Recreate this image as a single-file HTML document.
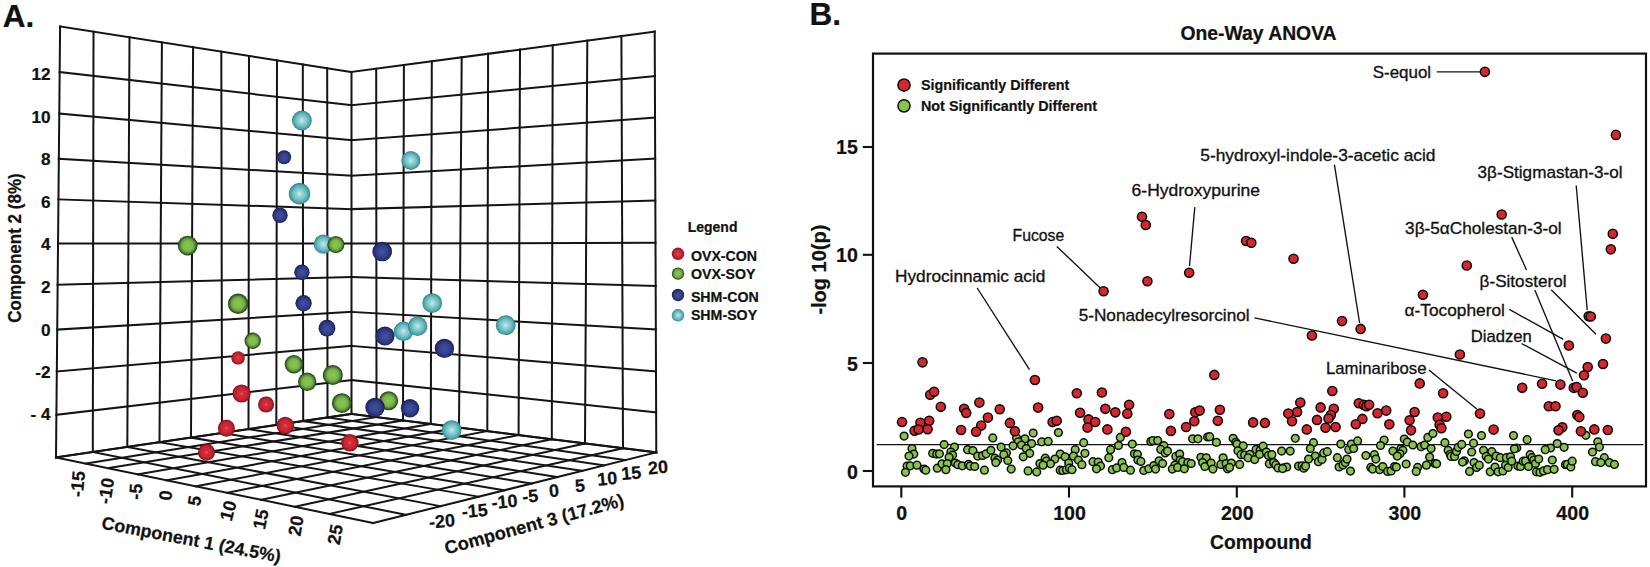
<!DOCTYPE html>
<html lang="en"><head><meta charset="utf-8"><title>Figure</title>
<style>
html,body{margin:0;padding:0;background:#fff;}
body{width:1650px;height:567px;overflow:hidden;font-family:"Liberation Sans",sans-serif;}
svg{display:block}
text{font-family:"Liberation Sans",sans-serif;fill:#111;}
.b{font-weight:bold;stroke:#111;stroke-width:0.22px;paint-order:stroke}
.g line{stroke:#151313;stroke-width:2;stroke-linecap:square}
.lead line{stroke:#111;stroke-width:1.35}
.rd circle{fill:#d7262c;stroke:#0d0d0d;stroke-width:1.55}
.gd circle{fill:#86c44c;stroke:#0d0d0d;stroke-width:1.5}
</style></head><body>
<svg width="1650" height="567" viewBox="0 0 1650 567">
<defs>
<radialGradient id="gr" cx="0.5" cy="0.5" r="0.5"><stop offset="0" stop-color="#de6079"/><stop offset="0.2" stop-color="#d3303e"/><stop offset="0.68" stop-color="#c7222e"/><stop offset="0.86" stop-color="#a41927"/><stop offset="1" stop-color="#6c0f19"/></radialGradient>
<radialGradient id="gg" cx="0.5" cy="0.5" r="0.5"><stop offset="0" stop-color="#8fc653"/><stop offset="0.5" stop-color="#7db84a"/><stop offset="0.72" stop-color="#5f9639"/><stop offset="0.87" stop-color="#376326"/><stop offset="1" stop-color="#1d3a16"/></radialGradient>
<radialGradient id="gb" cx="0.5" cy="0.52" r="0.5"><stop offset="0" stop-color="#4151a1"/><stop offset="0.55" stop-color="#34418c"/><stop offset="0.85" stop-color="#272e72"/><stop offset="1" stop-color="#191d52"/></radialGradient>
<radialGradient id="gc" cx="0.5" cy="0.5" r="0.5"><stop offset="0" stop-color="#d0e9ed"/><stop offset="0.25" stop-color="#9ed5d9"/><stop offset="0.6" stop-color="#6abfc2"/><stop offset="0.85" stop-color="#4aa1a5"/><stop offset="1" stop-color="#347e82"/></radialGradient>
</defs>
<rect width="1650" height="567" fill="#fff"/>

<g class="g">
<line x1="60.1" y1="26.5" x2="56.0" y2="457.4"/>
<line x1="93.5" y1="31.7" x2="92.8" y2="452.0"/>
<line x1="129.5" y1="37.3" x2="127.3" y2="446.9"/>
<line x1="161.9" y1="42.4" x2="159.5" y2="442.2"/>
<line x1="193.1" y1="47.3" x2="191.0" y2="437.6"/>
<line x1="221.3" y1="51.7" x2="222.0" y2="433.0"/>
<line x1="249.0" y1="56.0" x2="248.5" y2="429.1"/>
<line x1="277.0" y1="60.4" x2="276.3" y2="425.0"/>
<line x1="302.8" y1="64.4" x2="303.2" y2="421.1"/>
<line x1="327.2" y1="68.2" x2="327.5" y2="417.5"/>
<line x1="351.5" y1="72.0" x2="351.5" y2="414.0"/>
<line x1="60.1" y1="26.5" x2="351.5" y2="72.0"/>
<line x1="59.7" y1="72.1" x2="351.5" y2="105.2"/>
<line x1="59.3" y1="113.5" x2="351.5" y2="140.2"/>
<line x1="58.8" y1="158.7" x2="351.5" y2="175.8"/>
<line x1="58.5" y1="199.4" x2="351.5" y2="209.1"/>
<line x1="58.0" y1="243.5" x2="351.5" y2="243.6"/>
<line x1="57.6" y1="284.8" x2="351.5" y2="277.0"/>
<line x1="57.2" y1="329.6" x2="351.5" y2="311.9"/>
<line x1="56.8" y1="371.5" x2="351.5" y2="345.9"/>
<line x1="56.4" y1="414.8" x2="351.5" y2="380.0"/>
<line x1="56.0" y1="457.4" x2="351.5" y2="414.0"/>
<line x1="376.2" y1="68.7" x2="376.5" y2="417.1"/>
<line x1="403.9" y1="65.0" x2="403.0" y2="420.5"/>
<line x1="431.8" y1="61.3" x2="430.8" y2="424.0"/>
<line x1="461.7" y1="57.3" x2="459.0" y2="427.5"/>
<line x1="488.1" y1="53.8" x2="487.3" y2="431.1"/>
<line x1="520.0" y1="49.5" x2="518.6" y2="435.1"/>
<line x1="552.7" y1="45.2" x2="551.8" y2="439.2"/>
<line x1="587.3" y1="40.6" x2="585.0" y2="443.4"/>
<line x1="621.4" y1="36.0" x2="623.0" y2="448.2"/>
<line x1="654.7" y1="31.6" x2="656.3" y2="452.4"/>
<line x1="351.5" y1="72.0" x2="654.7" y2="31.6"/>
<line x1="351.5" y1="105.2" x2="654.9" y2="76.2"/>
<line x1="351.5" y1="140.2" x2="655.0" y2="117.6"/>
<line x1="351.5" y1="175.8" x2="655.2" y2="158.5"/>
<line x1="351.5" y1="209.1" x2="655.3" y2="200.6"/>
<line x1="351.5" y1="243.6" x2="655.5" y2="242.8"/>
<line x1="351.5" y1="277.0" x2="655.7" y2="286.0"/>
<line x1="351.5" y1="311.9" x2="655.8" y2="329.4"/>
<line x1="351.5" y1="345.9" x2="656.0" y2="371.3"/>
<line x1="351.5" y1="380.0" x2="656.1" y2="412.3"/>
<line x1="351.5" y1="414.0" x2="656.3" y2="452.4"/>
<line x1="56.0" y1="457.4" x2="373.2" y2="523.0"/>
<line x1="92.8" y1="452.0" x2="405.9" y2="514.8"/>
<line x1="127.3" y1="446.9" x2="440.5" y2="506.2"/>
<line x1="159.5" y1="442.2" x2="478.8" y2="496.7"/>
<line x1="191.0" y1="437.6" x2="504.4" y2="490.3"/>
<line x1="222.0" y1="433.0" x2="531.5" y2="483.5"/>
<line x1="248.5" y1="429.1" x2="557.5" y2="477.0"/>
<line x1="276.3" y1="425.0" x2="582.3" y2="470.9"/>
<line x1="303.2" y1="421.1" x2="604.0" y2="465.4"/>
<line x1="327.5" y1="417.5" x2="625.5" y2="460.1"/>
<line x1="351.5" y1="414.0" x2="656.3" y2="452.4"/>
<line x1="351.5" y1="414.0" x2="56.0" y2="457.4"/>
<line x1="376.5" y1="417.1" x2="85.7" y2="463.5"/>
<line x1="403.0" y1="420.5" x2="108.4" y2="468.2"/>
<line x1="430.8" y1="424.0" x2="138.0" y2="474.4"/>
<line x1="459.0" y1="427.5" x2="166.7" y2="480.3"/>
<line x1="487.3" y1="431.1" x2="195.8" y2="486.3"/>
<line x1="518.6" y1="435.1" x2="227.2" y2="492.8"/>
<line x1="551.8" y1="439.2" x2="261.2" y2="499.8"/>
<line x1="585.0" y1="443.4" x2="294.7" y2="506.8"/>
<line x1="623.0" y1="448.2" x2="329.4" y2="513.9"/>
<line x1="656.3" y1="452.4" x2="373.2" y2="523.0"/>
</g>
<g>
<circle cx="301.9" cy="120.5" r="9.90" fill="url(#gc)"/>
<circle cx="284.1" cy="157.3" r="7.00" fill="url(#gb)"/>
<circle cx="299.5" cy="193.8" r="10.70" fill="url(#gc)"/>
<circle cx="280.0" cy="215.2" r="7.70" fill="url(#gb)"/>
<circle cx="187.7" cy="245.6" r="9.90" fill="url(#gg)"/>
<circle cx="323.4" cy="244.1" r="9.65" fill="url(#gc)"/>
<circle cx="335.9" cy="244.5" r="8.60" fill="url(#gg)"/>
<circle cx="382.2" cy="251.5" r="9.80" fill="url(#gb)"/>
<circle cx="301.9" cy="272.2" r="7.70" fill="url(#gb)"/>
<circle cx="238.1" cy="303.8" r="10.20" fill="url(#gg)"/>
<circle cx="303.6" cy="303.3" r="8.20" fill="url(#gb)"/>
<circle cx="327.0" cy="328.2" r="8.40" fill="url(#gb)"/>
<circle cx="403.5" cy="331.3" r="9.70" fill="url(#gc)"/>
<circle cx="385.0" cy="336.0" r="9.60" fill="url(#gb)"/>
<circle cx="417.6" cy="326.2" r="9.70" fill="url(#gc)"/>
<circle cx="252.7" cy="340.8" r="8.20" fill="url(#gg)"/>
<circle cx="238.1" cy="357.9" r="6.70" fill="url(#gr)"/>
<circle cx="293.9" cy="364.2" r="9.20" fill="url(#gg)"/>
<circle cx="332.8" cy="375.0" r="10.00" fill="url(#gg)"/>
<circle cx="307.2" cy="381.8" r="9.20" fill="url(#gg)"/>
<circle cx="241.6" cy="393.5" r="9.10" fill="url(#gr)"/>
<circle cx="266.1" cy="404.5" r="8.00" fill="url(#gr)"/>
<circle cx="341.8" cy="403.1" r="9.90" fill="url(#gg)"/>
<circle cx="388.6" cy="400.7" r="9.50" fill="url(#gg)"/>
<circle cx="375.0" cy="407.4" r="9.70" fill="url(#gb)"/>
<circle cx="410.0" cy="408.2" r="9.20" fill="url(#gb)"/>
<circle cx="410.8" cy="160.4" r="9.50" fill="url(#gc)"/>
<circle cx="432.2" cy="303.1" r="9.90" fill="url(#gc)"/>
<circle cx="444.4" cy="348.4" r="9.70" fill="url(#gb)"/>
<circle cx="505.7" cy="325.2" r="9.90" fill="url(#gc)"/>
<circle cx="451.7" cy="430.1" r="9.90" fill="url(#gc)"/>
<circle cx="349.9" cy="442.8" r="8.70" fill="url(#gr)"/>
<circle cx="226.4" cy="428.2" r="8.50" fill="url(#gr)"/>
<circle cx="285.3" cy="425.5" r="8.70" fill="url(#gr)"/>
<circle cx="206.5" cy="452.3" r="8.50" fill="url(#gr)"/>
</g>
<text class="b" x="2.8" y="26.8" font-size="31.5">A.</text>
<text class="b" x="50.5" y="79.5" font-size="17.2" text-anchor="end">12</text>
<text class="b" x="50.5" y="122.9" font-size="17.2" text-anchor="end">10</text>
<text class="b" x="50.5" y="165.2" font-size="17.2" text-anchor="end">8</text>
<text class="b" x="50.5" y="207.6" font-size="17.2" text-anchor="end">6</text>
<text class="b" x="50.5" y="250.1" font-size="17.2" text-anchor="end">4</text>
<text class="b" x="50.5" y="292.5" font-size="17.2" text-anchor="end">2</text>
<text class="b" x="50.5" y="335.9" font-size="17.2" text-anchor="end">0</text>
<text class="b" x="50.5" y="377.9" font-size="17.2" text-anchor="end">-2</text>
<text class="b" x="50.5" y="419.5" font-size="17.2" text-anchor="end">- 4</text>
<text class="b" font-size="17.8" text-anchor="middle" textLength="149.6" lengthAdjust="spacingAndGlyphs" transform="translate(20.6,248) rotate(-90)">Component 2 (8%)</text>
<text class="b" font-size="18" text-anchor="middle" transform="translate(77.6,484.0) rotate(-85)" dy="6.4">-15</text>
<text class="b" font-size="18" text-anchor="middle" transform="translate(105.9,490.8) rotate(-81)" dy="6.4">-10</text>
<text class="b" font-size="18" text-anchor="middle" transform="translate(135.4,491.6) rotate(-86)" dy="6.4">-5</text>
<text class="b" font-size="18" text-anchor="middle" transform="translate(165.3,495.3) rotate(-84)" dy="6.4">0</text>
<text class="b" font-size="18" text-anchor="middle" transform="translate(194.2,500.8) rotate(-80)" dy="6.4">5</text>
<text class="b" font-size="18" text-anchor="middle" transform="translate(228.0,510.6) rotate(-75)" dy="6.4">10</text>
<text class="b" font-size="18" text-anchor="middle" transform="translate(260.6,519.2) rotate(-78)" dy="6.4">15</text>
<text class="b" font-size="18" text-anchor="middle" transform="translate(295.6,525.7) rotate(-80)" dy="6.4">20</text>
<text class="b" font-size="18" text-anchor="middle" transform="translate(335.0,534.4) rotate(-80)" dy="6.4">25</text>
<text class="b" font-size="17.9" transform="translate(100.8,528.6) rotate(10.8)">Component 1 (24.5%)</text>
<text class="b" font-size="18" text-anchor="middle" transform="translate(441.9,521.0) rotate(-5)" dy="6.4">-20</text>
<text class="b" font-size="18" text-anchor="middle" transform="translate(474.6,510.6) rotate(-5)" dy="6.4">-15</text>
<text class="b" font-size="18" text-anchor="middle" transform="translate(504.5,501.5) rotate(-5)" dy="6.4">-10</text>
<text class="b" font-size="18" text-anchor="middle" transform="translate(530.1,495.9) rotate(-5)" dy="6.4">-5</text>
<text class="b" font-size="18" text-anchor="middle" transform="translate(553.9,490.4) rotate(-5)" dy="6.4">0</text>
<text class="b" font-size="18" text-anchor="middle" transform="translate(580.0,485.5) rotate(-5)" dy="6.4">5</text>
<text class="b" font-size="18" text-anchor="middle" transform="translate(607.2,478.4) rotate(-5)" dy="6.4">10</text>
<text class="b" font-size="18" text-anchor="middle" transform="translate(631.1,472.8) rotate(-5)" dy="6.4">15</text>
<text class="b" font-size="18" text-anchor="middle" transform="translate(657.9,467.2) rotate(-5)" dy="6.4">20</text>
<text class="b" font-size="18.2" transform="translate(446.6,554.4) rotate(-15.3)">Component 3 (17.2%)</text>
<text class="b" x="687.7" y="232.1" font-size="14">Legend</text>
<circle cx="678" cy="253.8" r="6.2" fill="url(#gr)"/>
<text class="b" x="690.9" y="260.5" font-size="14.2">OVX-CON</text>
<circle cx="678" cy="273.6" r="6.2" fill="url(#gg)"/>
<text class="b" x="690.9" y="278.5" font-size="14.2">OVX-SOY</text>
<circle cx="678" cy="295.0" r="6.2" fill="url(#gb)"/>
<text class="b" x="690.9" y="302.0" font-size="14.2">SHM-CON</text>
<circle cx="678" cy="315.3" r="6.2" fill="url(#gc)"/>
<text class="b" x="690.9" y="320.2" font-size="14.2">SHM-SOY</text>
<text class="b" x="809.5" y="25.0" font-size="31.5">B.</text>
<text class="b" x="1258.5" y="40.2" font-size="19.35" text-anchor="middle">One-Way ANOVA</text>
<rect x="873.0" y="53.6" width="773.0" height="432.79999999999995" fill="none" stroke="#111" stroke-width="2.2"/>
<line x1="901.3" y1="486.4" x2="901.3" y2="497.6" stroke="#111" stroke-width="2.1"/>
<text class="b" x="901.8" y="519.8" font-size="19.6" text-anchor="middle" stroke="#111" stroke-width="0.3">0</text>
<line x1="1069.0" y1="486.4" x2="1069.0" y2="497.6" stroke="#111" stroke-width="2.1"/>
<text class="b" x="1069.5" y="519.8" font-size="19.6" text-anchor="middle" stroke="#111" stroke-width="0.3">100</text>
<line x1="1236.8" y1="486.4" x2="1236.8" y2="497.6" stroke="#111" stroke-width="2.1"/>
<text class="b" x="1237.3" y="519.8" font-size="19.6" text-anchor="middle" stroke="#111" stroke-width="0.3">200</text>
<line x1="1404.4" y1="486.4" x2="1404.4" y2="497.6" stroke="#111" stroke-width="2.1"/>
<text class="b" x="1404.9" y="519.8" font-size="19.6" text-anchor="middle" stroke="#111" stroke-width="0.3">300</text>
<line x1="1572.2" y1="486.4" x2="1572.2" y2="497.6" stroke="#111" stroke-width="2.1"/>
<text class="b" x="1572.7" y="519.8" font-size="19.6" text-anchor="middle" stroke="#111" stroke-width="0.3">400</text>
<line x1="862.8" y1="471.0" x2="873.0" y2="471.0" stroke="#111" stroke-width="2.1"/>
<text class="b" x="857.8" y="478.9" font-size="19.6" text-anchor="end" stroke="#111" stroke-width="0.3">0</text>
<line x1="862.8" y1="363.0" x2="873.0" y2="363.0" stroke="#111" stroke-width="2.1"/>
<text class="b" x="857.8" y="371.0" font-size="19.6" text-anchor="end" stroke="#111" stroke-width="0.3">5</text>
<line x1="862.8" y1="254.8" x2="873.0" y2="254.8" stroke="#111" stroke-width="2.1"/>
<text class="b" x="857.8" y="262.2" font-size="19.6" text-anchor="end" stroke="#111" stroke-width="0.3">10</text>
<line x1="862.8" y1="147.0" x2="873.0" y2="147.0" stroke="#111" stroke-width="2.1"/>
<text class="b" x="857.8" y="153.9" font-size="19.6" text-anchor="end" stroke="#111" stroke-width="0.3">15</text>
<text class="b" font-size="20" text-anchor="middle" transform="translate(825.6,269.6) rotate(-90)">-log 10(p)</text>
<text class="b" x="1260.9" y="548.8" font-size="19.3" text-anchor="middle">Compound</text>
<line x1="876.7" y1="444.6" x2="1643.4" y2="444.6" stroke="#111" stroke-width="1.3"/>
<g class="rd"><circle cx="904" cy="85" r="6.1"/></g><g class="gd"><circle cx="904" cy="105.8" r="6.1"/></g>
<text class="b" x="921" y="90.2" font-size="14.35">Significantly Different</text>
<text class="b" x="921" y="111" font-size="14.35">Not Significantly Different</text>
<g class="lead">
<line x1="1436.7" y1="71.8" x2="1480" y2="71.8"/>
<line x1="1056.8" y1="246.4" x2="1100.5" y2="288.2"/>
<line x1="977.2" y1="288.0" x2="1029.5" y2="369.7"/>
<line x1="1194.8" y1="207.1" x2="1189.5" y2="266.0"/>
<line x1="1334.4" y1="164.6" x2="1359.6" y2="323.0"/>
<line x1="1254.5" y1="317.9" x2="1556.0" y2="380.8"/>
<line x1="1576.2" y1="185.5" x2="1587.2" y2="310.0"/>
<line x1="1511.7" y1="237.1" x2="1526.5" y2="270.0"/>
<line x1="1534.8" y1="290.0" x2="1572.6" y2="381.0"/>
<line x1="1551.2" y1="289.7" x2="1596.0" y2="334.2"/>
<line x1="1509.3" y1="309.4" x2="1563.3" y2="339.3"/>
<line x1="1521.5" y1="343.5" x2="1576.8" y2="373.1"/>
<line x1="1428.9" y1="370.0" x2="1476.8" y2="409.0"/>
</g>
<g class="gd">
<circle cx="904.1" cy="436.1" r="3.85"/>
<circle cx="992.8" cy="437.9" r="3.85"/>
<circle cx="1033.2" cy="433.1" r="3.85"/>
<circle cx="1058.4" cy="432.6" r="3.85"/>
<circle cx="1016.6" cy="437.9" r="3.85"/>
<circle cx="1024.9" cy="438.8" r="3.85"/>
<circle cx="1018.4" cy="441.8" r="3.85"/>
<circle cx="1021.4" cy="445.0" r="3.85"/>
<circle cx="1013.1" cy="445.8" r="3.85"/>
<circle cx="1031.6" cy="443.6" r="3.85"/>
<circle cx="1041.7" cy="441.8" r="3.85"/>
<circle cx="1048.2" cy="441.4" r="3.85"/>
<circle cx="1083.7" cy="442.7" r="3.85"/>
<circle cx="944.1" cy="444.6" r="3.85"/>
<circle cx="954.4" cy="447.1" r="3.85"/>
<circle cx="912.0" cy="448.5" r="3.85"/>
<circle cx="913.8" cy="454.1" r="3.85"/>
<circle cx="909.0" cy="456.1" r="3.85"/>
<circle cx="932.7" cy="453.3" r="3.85"/>
<circle cx="936.7" cy="454.1" r="3.85"/>
<circle cx="939.4" cy="453.8" r="3.85"/>
<circle cx="950.8" cy="452.0" r="3.85"/>
<circle cx="952.6" cy="455.0" r="3.85"/>
<circle cx="949.1" cy="457.3" r="3.85"/>
<circle cx="967.6" cy="449.7" r="3.85"/>
<circle cx="972.9" cy="450.6" r="3.85"/>
<circle cx="977.7" cy="456.1" r="3.85"/>
<circle cx="982.6" cy="455.5" r="3.85"/>
<circle cx="986.1" cy="453.8" r="3.85"/>
<circle cx="990.9" cy="450.3" r="3.85"/>
<circle cx="1001.1" cy="447.1" r="3.85"/>
<circle cx="1006.4" cy="452.9" r="3.85"/>
<circle cx="1003.8" cy="454.7" r="3.85"/>
<circle cx="994.9" cy="458.2" r="3.85"/>
<circle cx="997.6" cy="460.0" r="3.85"/>
<circle cx="995.8" cy="462.6" r="3.85"/>
<circle cx="1007.8" cy="460.5" r="3.85"/>
<circle cx="1026.2" cy="448.5" r="3.85"/>
<circle cx="1029.7" cy="453.3" r="3.85"/>
<circle cx="1023.2" cy="456.8" r="3.85"/>
<circle cx="1075.2" cy="449.7" r="3.85"/>
<circle cx="1084.9" cy="453.3" r="3.85"/>
<circle cx="1073.4" cy="456.1" r="3.85"/>
<circle cx="1078.4" cy="460.0" r="3.85"/>
<circle cx="1081.9" cy="464.7" r="3.85"/>
<circle cx="1060.2" cy="454.1" r="3.85"/>
<circle cx="1065.1" cy="456.8" r="3.85"/>
<circle cx="1054.9" cy="459.1" r="3.85"/>
<circle cx="1068.7" cy="463.1" r="3.85"/>
<circle cx="1045.2" cy="458.2" r="3.85"/>
<circle cx="1046.4" cy="461.2" r="3.85"/>
<circle cx="1050.5" cy="463.8" r="3.85"/>
<circle cx="1039.9" cy="463.5" r="3.85"/>
<circle cx="1043.1" cy="465.2" r="3.85"/>
<circle cx="907.1" cy="466.1" r="3.85"/>
<circle cx="910.3" cy="465.8" r="3.85"/>
<circle cx="917.0" cy="465.2" r="3.85"/>
<circle cx="905.5" cy="472.3" r="3.85"/>
<circle cx="923.9" cy="469.1" r="3.85"/>
<circle cx="925.8" cy="470.2" r="3.85"/>
<circle cx="937.3" cy="468.2" r="3.85"/>
<circle cx="942.0" cy="463.8" r="3.85"/>
<circle cx="947.3" cy="463.5" r="3.85"/>
<circle cx="945.9" cy="469.7" r="3.85"/>
<circle cx="955.3" cy="463.0" r="3.85"/>
<circle cx="957.9" cy="464.7" r="3.85"/>
<circle cx="962.3" cy="465.8" r="3.85"/>
<circle cx="968.5" cy="464.4" r="3.85"/>
<circle cx="970.2" cy="466.1" r="3.85"/>
<circle cx="974.7" cy="466.5" r="3.85"/>
<circle cx="984.4" cy="470.2" r="3.85"/>
<circle cx="1011.2" cy="469.1" r="3.85"/>
<circle cx="1028.1" cy="470.9" r="3.85"/>
<circle cx="1036.7" cy="471.9" r="3.85"/>
<circle cx="1060.2" cy="470.2" r="3.85"/>
<circle cx="1062.8" cy="470.5" r="3.85"/>
<circle cx="1066.4" cy="469.7" r="3.85"/>
<circle cx="1069.5" cy="468.2" r="3.85"/>
<circle cx="1072.0" cy="469.7" r="3.85"/>
<circle cx="1120.3" cy="437.4" r="3.85"/>
<circle cx="1118.5" cy="445.5" r="3.85"/>
<circle cx="1132.3" cy="444.1" r="3.85"/>
<circle cx="1110.6" cy="449.7" r="3.85"/>
<circle cx="1108.8" cy="457.7" r="3.85"/>
<circle cx="1093.0" cy="461.7" r="3.85"/>
<circle cx="1098.2" cy="462.1" r="3.85"/>
<circle cx="1100.5" cy="466.1" r="3.85"/>
<circle cx="1096.5" cy="468.8" r="3.85"/>
<circle cx="1112.3" cy="469.7" r="3.85"/>
<circle cx="1116.7" cy="467.9" r="3.85"/>
<circle cx="1122.0" cy="462.6" r="3.85"/>
<circle cx="1123.8" cy="467.4" r="3.85"/>
<circle cx="1130.5" cy="470.2" r="3.85"/>
<circle cx="1134.4" cy="453.8" r="3.85"/>
<circle cx="1137.4" cy="454.3" r="3.85"/>
<circle cx="1137.9" cy="460.0" r="3.85"/>
<circle cx="1140.9" cy="461.4" r="3.85"/>
<circle cx="1143.7" cy="470.5" r="3.85"/>
<circle cx="1148.8" cy="468.8" r="3.85"/>
<circle cx="1153.8" cy="465.6" r="3.85"/>
<circle cx="1155.5" cy="469.1" r="3.85"/>
<circle cx="1159.1" cy="460.8" r="3.85"/>
<circle cx="1162.6" cy="463.5" r="3.85"/>
<circle cx="1150.8" cy="441.4" r="3.85"/>
<circle cx="1152.9" cy="440.6" r="3.85"/>
<circle cx="1157.7" cy="440.6" r="3.85"/>
<circle cx="1163.8" cy="445.5" r="3.85"/>
<circle cx="1160.8" cy="449.4" r="3.85"/>
<circle cx="1165.2" cy="452.9" r="3.85"/>
<circle cx="1167.5" cy="451.1" r="3.85"/>
<circle cx="1175.8" cy="456.4" r="3.85"/>
<circle cx="1179.7" cy="454.1" r="3.85"/>
<circle cx="1180.2" cy="460.0" r="3.85"/>
<circle cx="1182.5" cy="461.7" r="3.85"/>
<circle cx="1187.8" cy="462.6" r="3.85"/>
<circle cx="1191.2" cy="463.5" r="3.85"/>
<circle cx="1174.9" cy="465.2" r="3.85"/>
<circle cx="1172.3" cy="469.1" r="3.85"/>
<circle cx="1177.6" cy="467.4" r="3.85"/>
<circle cx="1184.3" cy="468.8" r="3.85"/>
<circle cx="1192.6" cy="438.8" r="3.85"/>
<circle cx="1197.9" cy="438.8" r="3.85"/>
<circle cx="1207.6" cy="437.0" r="3.85"/>
<circle cx="1209.7" cy="436.7" r="3.85"/>
<circle cx="1216.4" cy="442.3" r="3.85"/>
<circle cx="1200.9" cy="457.3" r="3.85"/>
<circle cx="1206.3" cy="457.8" r="3.85"/>
<circle cx="1202.6" cy="462.6" r="3.85"/>
<circle cx="1204.9" cy="466.5" r="3.85"/>
<circle cx="1211.1" cy="463.0" r="3.85"/>
<circle cx="1212.9" cy="469.1" r="3.85"/>
<circle cx="1223.1" cy="457.8" r="3.85"/>
<circle cx="1220.8" cy="464.4" r="3.85"/>
<circle cx="1226.1" cy="463.5" r="3.85"/>
<circle cx="1231.4" cy="463.0" r="3.85"/>
<circle cx="1227.5" cy="468.8" r="3.85"/>
<circle cx="1229.6" cy="467.4" r="3.85"/>
<circle cx="1239.7" cy="464.4" r="3.85"/>
<circle cx="1233.1" cy="438.3" r="3.85"/>
<circle cx="1235.8" cy="442.3" r="3.85"/>
<circle cx="1237.0" cy="444.1" r="3.85"/>
<circle cx="1243.2" cy="445.8" r="3.85"/>
<circle cx="1237.9" cy="450.8" r="3.85"/>
<circle cx="1241.1" cy="454.7" r="3.85"/>
<circle cx="1244.6" cy="455.0" r="3.85"/>
<circle cx="1249.9" cy="454.3" r="3.85"/>
<circle cx="1248.1" cy="457.8" r="3.85"/>
<circle cx="1254.7" cy="459.6" r="3.85"/>
<circle cx="1256.1" cy="449.4" r="3.85"/>
<circle cx="1260.1" cy="450.3" r="3.85"/>
<circle cx="1263.1" cy="446.2" r="3.85"/>
<circle cx="1259.6" cy="454.3" r="3.85"/>
<circle cx="1266.3" cy="452.0" r="3.85"/>
<circle cx="1268.4" cy="455.5" r="3.85"/>
<circle cx="1271.9" cy="454.7" r="3.85"/>
<circle cx="1269.3" cy="463.8" r="3.85"/>
<circle cx="1273.7" cy="462.6" r="3.85"/>
<circle cx="1275.8" cy="464.9" r="3.85"/>
<circle cx="1278.1" cy="467.9" r="3.85"/>
<circle cx="1281.6" cy="451.1" r="3.85"/>
<circle cx="1283.4" cy="467.9" r="3.85"/>
<circle cx="1295.3" cy="438.3" r="3.85"/>
<circle cx="1313.5" cy="442.7" r="3.85"/>
<circle cx="1310.3" cy="448.5" r="3.85"/>
<circle cx="1290.2" cy="451.1" r="3.85"/>
<circle cx="1315.3" cy="456.1" r="3.85"/>
<circle cx="1308.6" cy="459.1" r="3.85"/>
<circle cx="1318.4" cy="461.7" r="3.85"/>
<circle cx="1322.0" cy="459.4" r="3.85"/>
<circle cx="1323.7" cy="452.9" r="3.85"/>
<circle cx="1327.3" cy="451.7" r="3.85"/>
<circle cx="1286.7" cy="467.0" r="3.85"/>
<circle cx="1282.6" cy="468.6" r="3.85"/>
<circle cx="1298.5" cy="466.1" r="3.85"/>
<circle cx="1302.0" cy="465.8" r="3.85"/>
<circle cx="1303.8" cy="468.2" r="3.85"/>
<circle cx="1305.6" cy="466.1" r="3.85"/>
<circle cx="1340.8" cy="444.1" r="3.85"/>
<circle cx="1337.3" cy="457.7" r="3.85"/>
<circle cx="1339.1" cy="467.0" r="3.85"/>
<circle cx="1343.0" cy="464.9" r="3.85"/>
<circle cx="1345.3" cy="462.6" r="3.85"/>
<circle cx="1347.0" cy="459.1" r="3.85"/>
<circle cx="1350.5" cy="471.1" r="3.85"/>
<circle cx="1348.8" cy="449.4" r="3.85"/>
<circle cx="1351.4" cy="444.1" r="3.85"/>
<circle cx="1353.7" cy="448.5" r="3.85"/>
<circle cx="1357.6" cy="440.9" r="3.85"/>
<circle cx="1365.9" cy="455.5" r="3.85"/>
<circle cx="1374.4" cy="454.7" r="3.85"/>
<circle cx="1375.8" cy="459.1" r="3.85"/>
<circle cx="1370.8" cy="467.4" r="3.85"/>
<circle cx="1372.6" cy="469.1" r="3.85"/>
<circle cx="1379.6" cy="469.7" r="3.85"/>
<circle cx="1382.8" cy="466.5" r="3.85"/>
<circle cx="1387.6" cy="471.4" r="3.85"/>
<circle cx="1391.1" cy="470.9" r="3.85"/>
<circle cx="1394.6" cy="466.5" r="3.85"/>
<circle cx="1396.4" cy="467.0" r="3.85"/>
<circle cx="1384.1" cy="440.0" r="3.85"/>
<circle cx="1380.5" cy="445.5" r="3.85"/>
<circle cx="1392.9" cy="451.1" r="3.85"/>
<circle cx="1400.8" cy="448.8" r="3.85"/>
<circle cx="1402.9" cy="450.3" r="3.85"/>
<circle cx="1399.9" cy="453.8" r="3.85"/>
<circle cx="1397.3" cy="456.1" r="3.85"/>
<circle cx="1404.3" cy="439.1" r="3.85"/>
<circle cx="1407.3" cy="442.0" r="3.85"/>
<circle cx="1412.8" cy="445.0" r="3.85"/>
<circle cx="1406.1" cy="464.0" r="3.85"/>
<circle cx="1417.6" cy="467.4" r="3.85"/>
<circle cx="1416.2" cy="471.4" r="3.85"/>
<circle cx="1421.1" cy="446.7" r="3.85"/>
<circle cx="1424.6" cy="445.0" r="3.85"/>
<circle cx="1427.8" cy="437.4" r="3.85"/>
<circle cx="1432.9" cy="433.5" r="3.85"/>
<circle cx="1431.1" cy="448.5" r="3.85"/>
<circle cx="1429.6" cy="457.0" r="3.85"/>
<circle cx="1426.4" cy="465.2" r="3.85"/>
<circle cx="1434.9" cy="463.5" r="3.85"/>
<circle cx="1436.6" cy="463.8" r="3.85"/>
<circle cx="1444.9" cy="442.7" r="3.85"/>
<circle cx="1448.1" cy="450.3" r="3.85"/>
<circle cx="1450.2" cy="454.3" r="3.85"/>
<circle cx="1451.1" cy="456.4" r="3.85"/>
<circle cx="1454.6" cy="456.4" r="3.85"/>
<circle cx="1456.4" cy="451.5" r="3.85"/>
<circle cx="1458.1" cy="447.3" r="3.85"/>
<circle cx="1461.7" cy="444.4" r="3.85"/>
<circle cx="1468.4" cy="434.0" r="3.85"/>
<circle cx="1473.5" cy="443.2" r="3.85"/>
<circle cx="1471.7" cy="452.0" r="3.85"/>
<circle cx="1464.3" cy="460.8" r="3.85"/>
<circle cx="1462.5" cy="462.1" r="3.85"/>
<circle cx="1469.6" cy="471.4" r="3.85"/>
<circle cx="1474.0" cy="462.6" r="3.85"/>
<circle cx="1476.6" cy="467.4" r="3.85"/>
<circle cx="1479.3" cy="465.2" r="3.85"/>
<circle cx="1481.5" cy="435.6" r="3.85"/>
<circle cx="1483.5" cy="450.3" r="3.85"/>
<circle cx="1513.5" cy="435.6" r="3.85"/>
<circle cx="1527.1" cy="439.7" r="3.85"/>
<circle cx="1585.8" cy="435.3" r="3.85"/>
<circle cx="1597.8" cy="441.8" r="3.85"/>
<circle cx="1599.4" cy="447.1" r="3.85"/>
<circle cx="1592.5" cy="452.0" r="3.85"/>
<circle cx="1604.3" cy="457.7" r="3.85"/>
<circle cx="1595.5" cy="461.7" r="3.85"/>
<circle cx="1600.8" cy="462.6" r="3.85"/>
<circle cx="1609.3" cy="462.6" r="3.85"/>
<circle cx="1614.4" cy="464.4" r="3.85"/>
<circle cx="1557.2" cy="443.6" r="3.85"/>
<circle cx="1564.1" cy="447.3" r="3.85"/>
<circle cx="1550.5" cy="448.0" r="3.85"/>
<circle cx="1545.2" cy="449.7" r="3.85"/>
<circle cx="1516.7" cy="448.0" r="3.85"/>
<circle cx="1514.4" cy="448.8" r="3.85"/>
<circle cx="1491.8" cy="451.7" r="3.85"/>
<circle cx="1486.2" cy="456.4" r="3.85"/>
<circle cx="1488.4" cy="459.1" r="3.85"/>
<circle cx="1496.2" cy="456.1" r="3.85"/>
<circle cx="1500.3" cy="457.7" r="3.85"/>
<circle cx="1490.2" cy="471.8" r="3.85"/>
<circle cx="1495.0" cy="467.0" r="3.85"/>
<circle cx="1498.1" cy="471.8" r="3.85"/>
<circle cx="1502.9" cy="470.9" r="3.85"/>
<circle cx="1505.6" cy="465.2" r="3.85"/>
<circle cx="1508.2" cy="467.5" r="3.85"/>
<circle cx="1506.4" cy="457.7" r="3.85"/>
<circle cx="1510.5" cy="456.8" r="3.85"/>
<circle cx="1511.7" cy="461.2" r="3.85"/>
<circle cx="1517.9" cy="466.1" r="3.85"/>
<circle cx="1520.5" cy="466.5" r="3.85"/>
<circle cx="1523.2" cy="461.2" r="3.85"/>
<circle cx="1525.5" cy="461.2" r="3.85"/>
<circle cx="1528.5" cy="466.5" r="3.85"/>
<circle cx="1530.2" cy="454.7" r="3.85"/>
<circle cx="1532.0" cy="457.7" r="3.85"/>
<circle cx="1533.8" cy="460.0" r="3.85"/>
<circle cx="1535.5" cy="463.5" r="3.85"/>
<circle cx="1538.7" cy="459.1" r="3.85"/>
<circle cx="1536.4" cy="471.8" r="3.85"/>
<circle cx="1539.9" cy="472.3" r="3.85"/>
<circle cx="1543.5" cy="470.9" r="3.85"/>
<circle cx="1547.5" cy="469.7" r="3.85"/>
<circle cx="1554.1" cy="469.3" r="3.85"/>
<circle cx="1552.3" cy="460.0" r="3.85"/>
<circle cx="1565.5" cy="464.7" r="3.85"/>
<circle cx="1567.3" cy="464.4" r="3.85"/>
<circle cx="1570.8" cy="467.0" r="3.85"/>
<circle cx="1572.2" cy="461.2" r="3.85"/>
</g><g class="rd">
<circle cx="1484.9" cy="71.8" r="4.55"/>
<circle cx="1615.9" cy="134.9" r="4.55"/>
<circle cx="1142.0" cy="216.7" r="4.55"/>
<circle cx="1145.8" cy="225.0" r="4.55"/>
<circle cx="1246.1" cy="241.0" r="4.55"/>
<circle cx="1251.3" cy="242.7" r="4.55"/>
<circle cx="1293.5" cy="258.8" r="4.55"/>
<circle cx="1501.7" cy="214.5" r="4.55"/>
<circle cx="1612.8" cy="233.7" r="4.55"/>
<circle cx="1610.8" cy="249.3" r="4.55"/>
<circle cx="1466.8" cy="265.5" r="4.55"/>
<circle cx="1103.6" cy="291.2" r="4.55"/>
<circle cx="1147.4" cy="281.2" r="4.55"/>
<circle cx="1189.2" cy="272.7" r="4.55"/>
<circle cx="1422.9" cy="294.8" r="4.55"/>
<circle cx="1342.0" cy="321.1" r="4.55"/>
<circle cx="1360.6" cy="328.9" r="4.55"/>
<circle cx="1311.9" cy="335.5" r="4.55"/>
<circle cx="1459.9" cy="354.5" r="4.55"/>
<circle cx="1588.7" cy="316.2" r="4.55"/>
<circle cx="1590.8" cy="316.5" r="4.55"/>
<circle cx="1605.9" cy="338.6" r="4.55"/>
<circle cx="1568.9" cy="345.5" r="4.55"/>
<circle cx="1603.0" cy="364.0" r="4.55"/>
<circle cx="1587.7" cy="367.1" r="4.55"/>
<circle cx="1584.0" cy="375.2" r="4.55"/>
<circle cx="1542.1" cy="383.7" r="4.55"/>
<circle cx="1560.4" cy="384.6" r="4.55"/>
<circle cx="1522.2" cy="387.8" r="4.55"/>
<circle cx="1573.8" cy="387.8" r="4.55"/>
<circle cx="1576.7" cy="387.1" r="4.55"/>
<circle cx="1582.8" cy="392.7" r="4.55"/>
<circle cx="1419.7" cy="383.4" r="4.55"/>
<circle cx="1443.1" cy="393.2" r="4.55"/>
<circle cx="1332.3" cy="391.0" r="4.55"/>
<circle cx="1214.3" cy="374.9" r="4.55"/>
<circle cx="1034.9" cy="380.0" r="4.55"/>
<circle cx="922.5" cy="362.3" r="4.55"/>
<circle cx="1076.8" cy="393.2" r="4.55"/>
<circle cx="1101.9" cy="392.5" r="4.55"/>
<circle cx="930.2" cy="394.7" r="4.55"/>
<circle cx="934.1" cy="391.7" r="4.55"/>
<circle cx="940.8" cy="406.8" r="4.55"/>
<circle cx="979.4" cy="402.6" r="4.55"/>
<circle cx="964.1" cy="408.8" r="4.55"/>
<circle cx="966.2" cy="412.9" r="4.55"/>
<circle cx="999.7" cy="409.2" r="4.55"/>
<circle cx="1038.1" cy="407.6" r="4.55"/>
<circle cx="1080.1" cy="412.7" r="4.55"/>
<circle cx="902.0" cy="422.0" r="4.55"/>
<circle cx="920.4" cy="422.8" r="4.55"/>
<circle cx="929.2" cy="420.8" r="4.55"/>
<circle cx="914.6" cy="430.8" r="4.55"/>
<circle cx="918.6" cy="429.5" r="4.55"/>
<circle cx="927.6" cy="429.2" r="4.55"/>
<circle cx="961.1" cy="430.0" r="4.55"/>
<circle cx="987.9" cy="417.6" r="4.55"/>
<circle cx="981.2" cy="425.6" r="4.55"/>
<circle cx="976.1" cy="431.7" r="4.55"/>
<circle cx="1009.9" cy="422.9" r="4.55"/>
<circle cx="1014.9" cy="431.2" r="4.55"/>
<circle cx="1052.6" cy="422.0" r="4.55"/>
<circle cx="1056.7" cy="420.8" r="4.55"/>
<circle cx="1088.5" cy="419.4" r="4.55"/>
<circle cx="1095.2" cy="422.0" r="4.55"/>
<circle cx="1087.5" cy="427.6" r="4.55"/>
<circle cx="1105.3" cy="408.8" r="4.55"/>
<circle cx="1115.3" cy="412.3" r="4.55"/>
<circle cx="1129.1" cy="404.8" r="4.55"/>
<circle cx="1127.3" cy="413.7" r="4.55"/>
<circle cx="1107.4" cy="429.4" r="4.55"/>
<circle cx="1125.9" cy="431.7" r="4.55"/>
<circle cx="1169.3" cy="414.1" r="4.55"/>
<circle cx="1170.9" cy="430.9" r="4.55"/>
<circle cx="1186.1" cy="427.0" r="4.55"/>
<circle cx="1194.3" cy="421.2" r="4.55"/>
<circle cx="1195.2" cy="412.3" r="4.55"/>
<circle cx="1199.6" cy="410.6" r="4.55"/>
<circle cx="1219.9" cy="409.7" r="4.55"/>
<circle cx="1217.8" cy="420.8" r="4.55"/>
<circle cx="1253.1" cy="422.4" r="4.55"/>
<circle cx="1264.9" cy="422.9" r="4.55"/>
<circle cx="1300.3" cy="402.6" r="4.55"/>
<circle cx="1297.1" cy="412.0" r="4.55"/>
<circle cx="1288.3" cy="413.6" r="4.55"/>
<circle cx="1292.0" cy="421.2" r="4.55"/>
<circle cx="1306.8" cy="429.4" r="4.55"/>
<circle cx="1320.6" cy="407.4" r="4.55"/>
<circle cx="1317.0" cy="419.9" r="4.55"/>
<circle cx="1325.5" cy="427.7" r="4.55"/>
<circle cx="1333.8" cy="408.8" r="4.55"/>
<circle cx="1330.8" cy="415.0" r="4.55"/>
<circle cx="1328.5" cy="418.5" r="4.55"/>
<circle cx="1335.6" cy="427.0" r="4.55"/>
<circle cx="1358.8" cy="403.2" r="4.55"/>
<circle cx="1363.8" cy="404.9" r="4.55"/>
<circle cx="1366.4" cy="406.2" r="4.55"/>
<circle cx="1369.1" cy="404.8" r="4.55"/>
<circle cx="1362.4" cy="418.9" r="4.55"/>
<circle cx="1355.8" cy="424.2" r="4.55"/>
<circle cx="1377.5" cy="413.2" r="4.55"/>
<circle cx="1386.2" cy="410.6" r="4.55"/>
<circle cx="1389.3" cy="424.3" r="4.55"/>
<circle cx="1414.6" cy="412.0" r="4.55"/>
<circle cx="1409.6" cy="420.3" r="4.55"/>
<circle cx="1411.0" cy="430.3" r="4.55"/>
<circle cx="1437.8" cy="417.6" r="4.55"/>
<circle cx="1446.3" cy="416.7" r="4.55"/>
<circle cx="1439.6" cy="424.7" r="4.55"/>
<circle cx="1441.4" cy="428.2" r="4.55"/>
<circle cx="1480.0" cy="413.6" r="4.55"/>
<circle cx="1493.6" cy="429.6" r="4.55"/>
<circle cx="1548.8" cy="406.2" r="4.55"/>
<circle cx="1555.5" cy="406.2" r="4.55"/>
<circle cx="1577.3" cy="415.0" r="4.55"/>
<circle cx="1579.3" cy="417.1" r="4.55"/>
<circle cx="1562.3" cy="427.3" r="4.55"/>
<circle cx="1558.5" cy="430.3" r="4.55"/>
<circle cx="1580.9" cy="431.2" r="4.55"/>
<circle cx="1594.3" cy="429.4" r="4.55"/>
<circle cx="1607.8" cy="430.0" r="4.55"/>
</g>
<text x="1372.7" y="77.7" font-size="17" textLength="58.4" lengthAdjust="spacingAndGlyphs" stroke="#111" stroke-width="0.32">S-equol</text>
<text x="1012.5" y="241.1" font-size="17" textLength="51.7" lengthAdjust="spacingAndGlyphs" stroke="#111" stroke-width="0.32">Fucose</text>
<text x="895.0" y="281.7" font-size="17" textLength="150.4" lengthAdjust="spacingAndGlyphs" stroke="#111" stroke-width="0.32">Hydrocinnamic acid</text>
<text x="1131.6" y="196.0" font-size="17" textLength="128.4" lengthAdjust="spacingAndGlyphs" stroke="#111" stroke-width="0.32">6-Hydroxypurine</text>
<text x="1200.3" y="161.2" font-size="17" textLength="235.2" lengthAdjust="spacingAndGlyphs" stroke="#111" stroke-width="0.32">5-hydroxyl-indole-3-acetic acid</text>
<text x="1078.7" y="321.3" font-size="17" textLength="170.9" lengthAdjust="spacingAndGlyphs" stroke="#111" stroke-width="0.32">5-Nonadecylresorcinol</text>
<text x="1477.6" y="178.3" font-size="17" textLength="144.9" lengthAdjust="spacingAndGlyphs" stroke="#111" stroke-width="0.32">3β-Stigmastan-3-ol</text>
<text x="1405.1" y="233.8" font-size="17" textLength="156.5" lengthAdjust="spacingAndGlyphs" stroke="#111" stroke-width="0.32">3β-5αCholestan-3-ol</text>
<text x="1479.6" y="286.6" font-size="17" textLength="86.9" lengthAdjust="spacingAndGlyphs" stroke="#111" stroke-width="0.32">β-Sitosterol</text>
<text x="1404.6" y="315.6" font-size="17" textLength="100.3" lengthAdjust="spacingAndGlyphs" stroke="#111" stroke-width="0.32">α-Tocopherol</text>
<text x="1470.8" y="341.9" font-size="17" textLength="60.9" lengthAdjust="spacingAndGlyphs" stroke="#111" stroke-width="0.32">Diadzen</text>
<text x="1326.0" y="373.5" font-size="17" textLength="100.5" lengthAdjust="spacingAndGlyphs" stroke="#111" stroke-width="0.32">Laminaribose</text>
</svg></body></html>
